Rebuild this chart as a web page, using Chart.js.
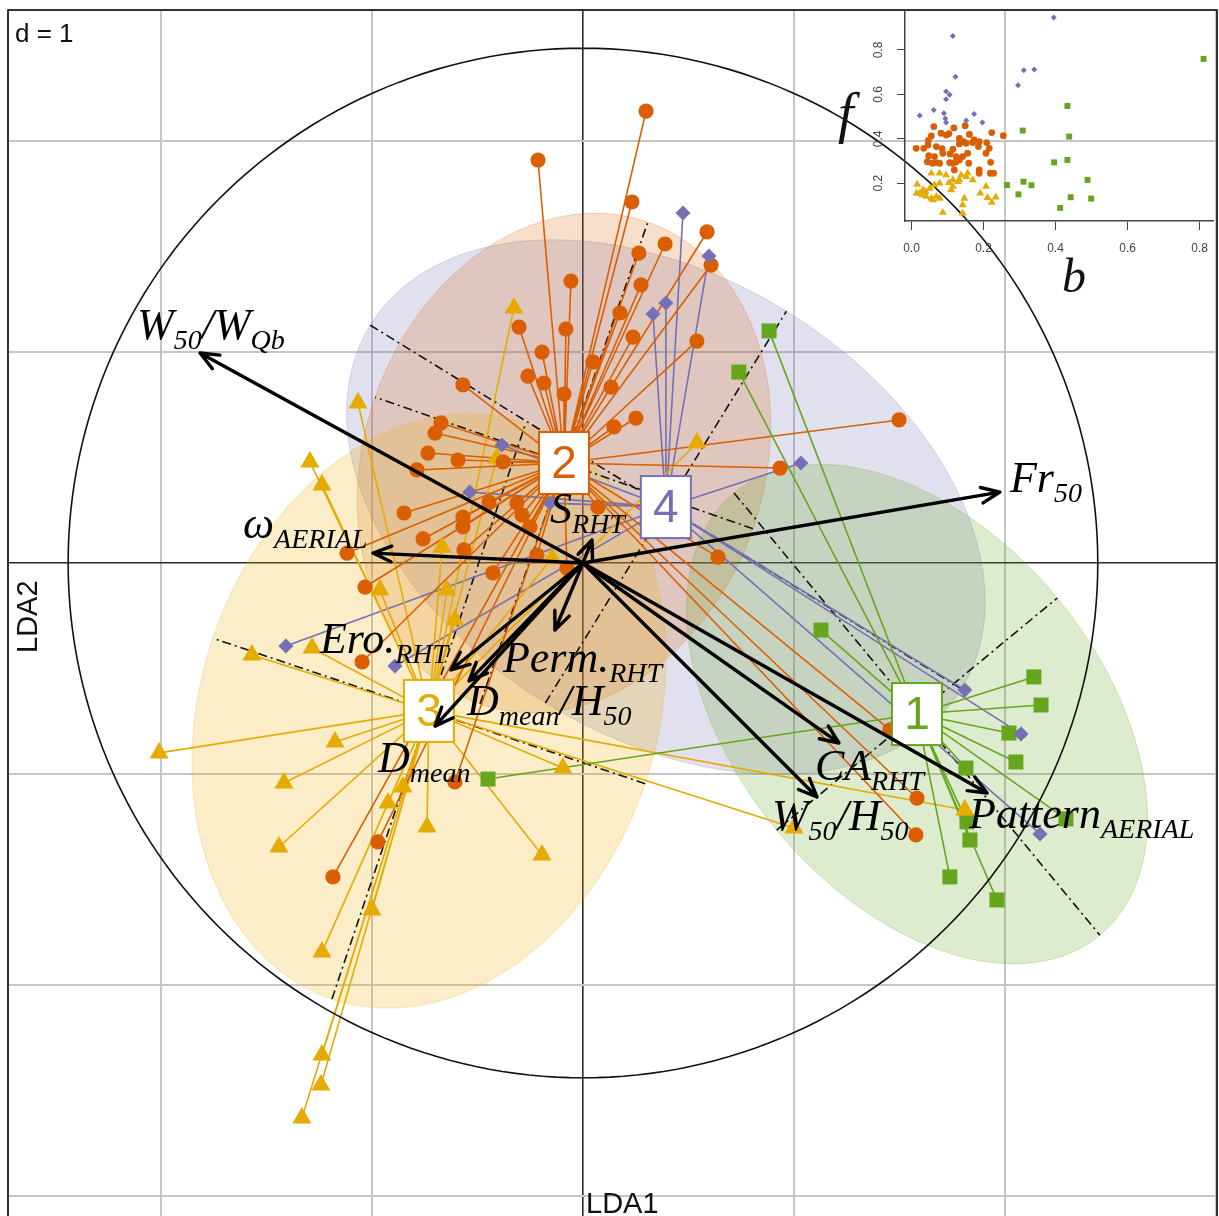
<!DOCTYPE html>
<html>
<head>
<meta charset="utf-8">
<script src="https://cdn.jsdelivr.net/npm/chart.js@4"></script>
<style>
  html, body { margin: 0; padding: 0; background: #fff; }
  #wrap { position: relative; width: 1219px; height: 1216px; overflow: hidden; }
  #main { position: absolute; left: 0; top: 0; }
  #inset { position: absolute; left: 820px; top: 0; }
</style>
</head>
<body>
<div id="wrap">
  <canvas id="main" width="1219" height="1216"></canvas>
  <canvas id="inset" width="399" height="300"></canvas>
</div>
<script>
// LDA scores, one pair of arrays per class (1 = green, 2 = orange, 3 = yellow, 4 = purple)
const grp1X = [0.882, 0.739, 1.128, 2.137, 2.171, 2.019, 2.052, 1.815, 1.820, 1.834, 1.739, 1.962, 2.289, -0.450];
const grp1Y = [1.100, 0.905, -0.318, -0.540, -0.673, -0.806, -0.943, -0.972, -1.227, -1.313, -1.488, -1.597, -1.213, -1.024];

const grp2X = [0.299, -0.213, 0.232, 0.588, 0.389, 0.265, 0.607, -0.057, 0.275, 0.175, -0.303, -0.081, 0.237, 0.540,
  -0.194, 0.047, -0.261, -0.185, -0.090, -0.569, 0.133, 0.251, 0.147, -0.673, -0.701, -0.735, -0.592, -0.379, -0.787,
  0.934, 1.498, -0.848, -0.758, -0.569, -0.569, -0.564, -0.445, -0.313, -0.289, -0.251, -0.218, -0.427, -0.076, 0.071,
  -1.118, -1.033, -1.047, -0.607, -0.972, -1.185, 0.640, 1.583, 1.578, 1.455];
const grp2Y = [2.142, 1.910, 1.711, 1.569, 1.512, 1.469, 1.412, 1.336, 1.318, 1.185, 1.118, 1.109, 1.071, 1.052,
  1.000, 0.953, 0.886, 0.853, 0.801, 0.844, 0.834, 0.687, 0.645, 0.664, 0.616, 0.521, 0.488, 0.479, 0.441,
  0.450, 0.678, 0.237, 0.114, 0.218, 0.171, 0.062, 0.289, 0.284, 0.227, 0.171, 0.038, -0.047, -0.024, 0.265,
  0.047, -0.114, -0.469, -1.038, -1.322, -1.488, 0.028, -1.114, -1.289, -0.791];

const grp3X = [-0.327, 0.540, -0.408, -1.066, -1.294, -1.237, -1.569, -1.284, -1.175, -2.009, -1.417, -0.962, -0.853,
  -0.924, -0.668, -0.645, -0.607, -0.095, 1.810, 1.000, -1.441, -0.739, -0.194, -1.000, -1.237, -1.237, -1.242, -1.332, -0.147];
const grp3Y = [1.209, 0.569, 0.498, 0.758, 0.479, 0.370, -0.436, -0.403, -0.848, -0.900, -1.043, -0.128, -1.062,
  -1.137, 0.076, -0.128, -0.270, -0.972, -1.171, -1.256, -1.346, -1.251, -1.384, -1.645, -1.844, -2.332, -2.474, -2.630, 0.024];

const grp4X = [0.474, 0.597, 0.332, 0.393, -0.384, 1.033, -0.536, -0.156, -1.408, -0.891, 1.810, 2.076, 2.166];
const grp4Y = [1.659, 1.455, 1.180, 1.232, 0.559, 0.474, 0.336, 0.284, -0.393, -0.488, -0.602, -0.810, -1.284];

// class centres and 1.5 sd ellipses (semi axes, angle of major axis in degrees)
const classLabels = ['1', '2', '3', '4'];
const centroidX = [1.583, -0.090, -0.730, 0.393];
const centroidY = [-0.716, 0.474, -0.701, 0.265];
const ellA = [1.360, 1.209, 1.441, 1.645];
const ellB = [0.863, 0.948, 1.081, 1.090];
const ellAngle = [-50.4, 70.8, 71.4, -31.6];

// variable arrows (correlation circle)
const varNames = ['W_{50}/W_{Qb}', 'ω_{AERIAL}', 'Fr_{50}', 'S_{RHT}', 'Perm._{RHT}', 'Ero._{RHT}',
  'D_{mean}/H_{50}', 'D_{mean}', 'CA_{RHT}', 'W_{50}/H_{50}', 'Pattern_{AERIAL}'];
const varX = [-1.815, -0.995, 1.976, 0.043, -0.133, -0.626, -0.540, -0.701, 1.213, 1.109, 1.915];
const varY = [0.995, 0.047, 0.336, 0.109, -0.318, -0.507, -0.559, -0.773, -0.853, -1.109, -1.090];
const circleR = 2.44;
const gridTicks = [-3, -2, -1, 0, 1, 2, 3];

// inset: b (x) against f (y)
const inset1B = [0.811, 0.433, 0.438, 0.309, 0.396, 0.433, 0.489, 0.265, 0.311, 0.333, 0.297, 0.442, 0.499, 0.413];
const inset1F = [0.760, 0.548, 0.410, 0.437, 0.294, 0.305, 0.215, 0.192, 0.207, 0.191, 0.150, 0.137, 0.131, 0.089];
const inset2B = [0.062, 0.118, 0.149, 0.223, 0.255, 0.161, 0.055, 0.047, 0.082, 0.096, 0.104, 0.133, 0.145, 0.174,
  0.188, 0.209, 0.013, 0.034, 0.046, 0.069, 0.085, 0.115, 0.133, 0.152, 0.170, 0.216, 0.048, 0.064, 0.087, 0.107,
  0.124, 0.142, 0.156, 0.186, 0.207, 0.044, 0.058, 0.069, 0.078, 0.106, 0.115, 0.133, 0.159, 0.188, 0.188, 0.220,
  0.219, 0.228, 0.119, 0.124];
const inset2F = [0.455, 0.449, 0.459, 0.428, 0.414, 0.420, 0.413, 0.393, 0.425, 0.417, 0.423, 0.402, 0.387, 0.395,
  0.387, 0.383, 0.357, 0.357, 0.372, 0.365, 0.356, 0.353, 0.377, 0.380, 0.383, 0.357, 0.324, 0.320, 0.335, 0.332,
  0.320, 0.320, 0.335, 0.365, 0.335, 0.297, 0.290, 0.293, 0.290, 0.293, 0.290, 0.305, 0.290, 0.260, 0.245, 0.294,
  0.245, 0.245, 0.260, 0.296];
const inset3B = [0.016, 0.023, 0.014, 0.032, 0.039, 0.051, 0.055, 0.078, 0.096, 0.064, 0.078, 0.104, 0.115, 0.110,
  0.041, 0.055, 0.060, 0.078, 0.087, 0.142, 0.147, 0.142, 0.152, 0.133, 0.156, 0.170, 0.191, 0.207, 0.211, 0.223,
  0.234, 0.115, 0.129, 0.138, 0.030, 0.069];
const inset3F = [0.195, 0.155, 0.155, 0.170, 0.162, 0.177, 0.245, 0.245, 0.237, 0.192, 0.200, 0.203, 0.185, 0.170,
  0.140, 0.132, 0.125, 0.132, 0.068, 0.102, 0.132, 0.065, 0.230, 0.215, 0.245, 0.215, 0.155, 0.185, 0.135, 0.113,
  0.137, 0.215, 0.207, 0.237, 0.147, 0.140];
const inset4B = [0.395, 0.115, 0.122, 0.096, 0.106, 0.096, 0.023, 0.062, 0.090, 0.094, 0.096, 0.152, 0.174, 0.197, 0.296, 0.312, 0.341];
const inset4F = [0.946, 0.863, 0.680, 0.613, 0.598, 0.578, 0.505, 0.530, 0.515, 0.492, 0.473, 0.482, 0.512, 0.473, 0.641, 0.709, 0.712];
const insetXTicks = [0, 0.2, 0.4, 0.6, 0.8];
const insetYTicks = [0.2, 0.4, 0.6, 0.8];

// styling
const classColor = ['#66A61E', '#D95F02', '#E6AB02', '#7570B3'];
const classStyle = ['rect', 'circle', 'triangle', 'rectRot'];
const classRadius = [10.6, 7.6, 11, 7.5];
const insetRadius = [4.2, 3.4, 4.6, 3];
const fillAlpha = [0.22, 0.2, 0.22, 0.22];
// label offset from arrow tip, in pixels (left edge, baseline)
const labelDx = [-63, -130, 10, -42, -52, -131, -2, -57, -24, -45, -18];
const labelDy = [-14, -15, 0, -17, 42, -17, 34, 46, 37, 33, 35];

const groupsX = [grp1X, grp2X, grp3X, grp4X];
const groupsY = [grp1Y, grp2Y, grp3Y, grp4Y];

function rgba(hex, a) {
  const n = parseInt(hex.slice(1), 16);
  return `rgba(${n >> 16},${(n >> 8) & 255},${n & 255},${a})`;
}

function starData(k) {
  const d = [];
  groupsX[k].forEach((v, i) => {
    d.push({x: centroidX[k], y: centroidY[k]});
    d.push({x: v, y: groupsY[k][i]});
  });
  return d;
}

function drawRich(ctx, str, x, y) {
  const parts = str.split(/(_\{[^}]*\})/).filter(p => p.length);
  let cx = x;
  parts.forEach(p => {
    const sub = p.startsWith('_{');
    const t = sub ? p.slice(2, -1) : p;
    ctx.font = sub ? 'italic 28px "Liberation Serif"' : 'italic 44px "Liberation Serif"';
    ctx.fillText(t, cx, sub ? y + 10 : y);
    cx += ctx.measureText(t).width;
  });
}

const ldaDecor = {
  id: 'ldaDecor',
  beforeDatasetsDraw(chart) {
    const ctx = chart.ctx, xs = chart.scales.x, ys = chart.scales.y, area = chart.chartArea;
    const P = (a, b) => [xs.getPixelForValue(a), ys.getPixelForValue(b)];
    ctx.save();
    ctx.beginPath();
    ctx.rect(area.left, area.top, area.right - area.left, area.bottom - area.top);
    ctx.clip();
    [3, 1, 2, 0].forEach(k => {
      const th = ellAngle[k] * Math.PI / 180, c = Math.cos(th), s = Math.sin(th);
      ctx.beginPath();
      for (let i = 0; i <= 180; i++) {
        const t = i / 180 * 2 * Math.PI;
        const dx = ellA[k] * Math.cos(t), dy = ellB[k] * Math.sin(t);
        const [px, py] = P(centroidX[k] + dx * c - dy * s, centroidY[k] + dx * s + dy * c);
        if (i) ctx.lineTo(px, py); else ctx.moveTo(px, py);
      }
      ctx.closePath();
      ctx.fillStyle = rgba(classColor[k], fillAlpha[k]);
      ctx.fill();
      ctx.strokeStyle = rgba(classColor[k], 0.25);
      ctx.lineWidth = 1;
      ctx.stroke();
    });
    // ellipse axes
    ctx.setLineDash([9, 4, 2, 4]);
    ctx.strokeStyle = '#111';
    ctx.lineWidth = 1.6;
    centroidX.forEach((cxv, k) => {
      const th = ellAngle[k] * Math.PI / 180, c = Math.cos(th), s = Math.sin(th);
      const a = ellA[k], b = ellB[k], cyv = centroidY[k];
      [[a * c, a * s], [-b * s, b * c]].forEach(([ux, uy]) => {
        const p1 = P(cxv - ux, cyv - uy), p2 = P(cxv + ux, cyv + uy);
        ctx.beginPath();
        ctx.moveTo(p1[0], p1[1]);
        ctx.lineTo(p2[0], p2[1]);
        ctx.stroke();
      });
    });
    ctx.restore();
  },
  afterDatasetsDraw(chart) {
    const ctx = chart.ctx, xs = chart.scales.x, ys = chart.scales.y, area = chart.chartArea;
    const P = (a, b) => [xs.getPixelForValue(a), ys.getPixelForValue(b)];
    ctx.save();

    // correlation circle
    ctx.beginPath();
    for (let i = 0; i <= 240; i++) {
      const t = i / 240 * 2 * Math.PI;
      const [px, py] = P(circleR * Math.cos(t), circleR * Math.sin(t));
      if (i) ctx.lineTo(px, py); else ctx.moveTo(px, py);
    }
    ctx.strokeStyle = '#111';
    ctx.lineWidth = 1.6;
    ctx.stroke();

    // class boxes
    centroidX.forEach((cxv, k) => {
      const [px, py] = P(cxv, centroidY[k]);
      ctx.fillStyle = '#fff';
      ctx.fillRect(px - 25, py - 31, 50, 62);
      ctx.strokeStyle = classColor[k];
      ctx.lineWidth = 2;
      ctx.strokeRect(px - 25, py - 31, 50, 62);
      ctx.fillStyle = classColor[k];
      ctx.font = '46px "Liberation Sans"';
      ctx.textAlign = 'center';
      ctx.textBaseline = 'middle';
      ctx.fillText(classLabels[k], px, py + 2);
    });

    // arrows
    const [ox, oy] = P(0, 0);
    ctx.strokeStyle = '#000';
    ctx.lineWidth = 3.4;
    ctx.lineCap = 'round';
    ctx.lineJoin = 'round';
    varX.forEach((vx, i) => {
      const [tx, ty] = P(vx, varY[i]);
      const ang = Math.atan2(ty - oy, tx - ox);
      ctx.beginPath();
      ctx.moveTo(ox, oy);
      ctx.lineTo(tx, ty);
      ctx.moveTo(tx - 20 * Math.cos(ang - 0.4), ty - 20 * Math.sin(ang - 0.4));
      ctx.lineTo(tx, ty);
      ctx.lineTo(tx - 20 * Math.cos(ang + 0.4), ty - 20 * Math.sin(ang + 0.4));
      ctx.stroke();
    });

    // variable labels
    ctx.fillStyle = '#000';
    ctx.textAlign = 'left';
    ctx.textBaseline = 'alphabetic';
    varNames.forEach((name, i) => {
      const [tx, ty] = P(varX[i], varY[i]);
      drawRich(ctx, name, tx + labelDx[i], ty + labelDy[i]);
    });

    // texts
    ctx.fillStyle = '#111';
    ctx.font = '26px "Liberation Sans"';
    ctx.fillText('d = 1', 15, 42);
    ctx.font = '29px "Liberation Sans"';
    ctx.fillText('LDA1', 586, 1213);
    ctx.save();
    ctx.translate(37, 653);
    ctx.rotate(-Math.PI / 2);
    ctx.fillText('LDA2', 0, 0);
    ctx.restore();

    // frame
    ctx.strokeStyle = '#333';
    ctx.lineWidth = 2;
    ctx.strokeRect(area.left, area.top, area.right - area.left, area.bottom - area.top + 4);
    ctx.restore();
  }
};

const starSets = groupsX.map((g, k) => ({
  data: starData(k),
  showLine: true,
  borderColor: classColor[k],
  borderWidth: 1.6,
  borderJoinStyle: 'round',
  pointRadius: 0,
  pointHitRadius: 0,
  order: 20 + k
}));

const pointOrder = [4, 2, 3, 1];
const pointSets = groupsX.map((g, k) => ({
  data: g.map((v, i) => ({x: v, y: groupsY[k][i]})),
  pointStyle: classStyle[k],
  pointRadius: classRadius[k],
  backgroundColor: classColor[k],
  borderColor: classColor[k],
  borderWidth: 0,
  order: pointOrder[k]
}));

new Chart(document.getElementById('main'), {
  type: 'scatter',
  data: { datasets: starSets.concat(pointSets) },
  options: {
    responsive: false,
    animation: false,
    devicePixelRatio: 1,
    events: [],
    layout: { autoPadding: false, padding: { left: 8, top: 10, right: 2, bottom: 0 } },
    plugins: { legend: { display: false }, tooltip: { enabled: false } },
    scales: {
      x: {
        type: 'linear', min: -2.725, max: 3.005,
        afterBuildTicks: s => { s.ticks = gridTicks.map(v => ({value: v})); },
        afterFit: s => { s.height = 0; },
        ticks: { display: false },
        border: { display: false },
        grid: {
          drawTicks: false,
          color: c => (c.tick && c.tick.value === 0) ? '#2a2a2a' : '#c6c6c6',
          lineWidth: c => (c.tick && c.tick.value === 0) ? 1.6 : 2
        }
      },
      y: {
        type: 'linear', min: -3.095, max: 2.621,
        afterBuildTicks: s => { s.ticks = gridTicks.map(v => ({value: v})); },
        afterFit: s => { s.width = 0; },
        ticks: { display: false },
        border: { display: false },
        grid: {
          drawTicks: false,
          color: c => (c.tick && c.tick.value === 0) ? '#2a2a2a' : '#c6c6c6',
          lineWidth: c => (c.tick && c.tick.value === 0) ? 1.6 : 2
        }
      }
    }
  },
  plugins: [ldaDecor]
});

// inset chart
const insetB = [inset1B, inset2B, inset3B, inset4B];
const insetF = [inset1F, inset2F, inset3F, inset4F];

const insetDecor = {
  id: 'insetDecor',
  afterDraw(chart) {
    const ctx = chart.ctx, ys = chart.scales.y;
    ctx.save();
    ctx.fillStyle = '#444';
    ctx.font = '12px "Liberation Sans"';
    ctx.textAlign = 'center';
    ctx.textBaseline = 'middle';
    insetYTicks.forEach(v => {
      const py = ys.getPixelForValue(v);
      ctx.save();
      ctx.translate(59, py);
      ctx.rotate(-Math.PI / 2);
      ctx.fillText(v.toFixed(1), 0, 0);
      ctx.restore();
    });
    ctx.fillStyle = '#111';
    ctx.textAlign = 'left';
    ctx.textBaseline = 'alphabetic';
    ctx.font = 'italic 56px "Liberation Serif"';
    ctx.fillText('f', 18, 132);
    ctx.font = 'italic 48px "Liberation Serif"';
    ctx.fillText('b', 242, 292);
    ctx.restore();
  }
};

new Chart(document.getElementById('inset'), {
  type: 'scatter',
  data: {
    datasets: insetB.map((b, k) => ({
      data: b.map((v, i) => ({x: v, y: insetF[k][i]})),
      pointStyle: classStyle[k],
      pointRadius: insetRadius[k],
      backgroundColor: classColor[k],
      borderColor: classColor[k],
      borderWidth: 0,
      order: pointOrder[k]
    }))
  },
  options: {
    responsive: false,
    animation: false,
    devicePixelRatio: 1,
    events: [],
    layout: { autoPadding: false, padding: { left: 0, top: 10, right: 2, bottom: 0 } },
    plugins: { legend: { display: false }, tooltip: { enabled: false } },
    scales: {
      x: {
        type: 'linear', min: -0.018, max: 0.84,
        afterBuildTicks: s => { s.ticks = insetXTicks.map(v => ({value: v})); },
        afterFit: s => { s.height = 79; },
        grid: { drawOnChartArea: false, drawTicks: true, tickLength: 9, color: '#444', lineWidth: 1 },
        border: { display: true, color: '#444', width: 1.5 },
        ticks: { padding: 11, color: '#444', font: { size: 12, family: 'Liberation Sans' },
          maxRotation: 0, callback: v => v.toFixed(1) }
      },
      y: {
        type: 'linear', min: 0.03, max: 0.98,
        afterBuildTicks: s => { s.ticks = insetYTicks.map(v => ({value: v})); },
        afterFit: s => { s.width = 85; },
        grid: { drawOnChartArea: false, drawTicks: true, tickLength: 8, color: '#444', lineWidth: 1 },
        border: { display: true, color: '#444', width: 1.5 },
        ticks: { display: false }
      }
    }
  },
  plugins: [insetDecor]
});
</script>
</body>
</html>
